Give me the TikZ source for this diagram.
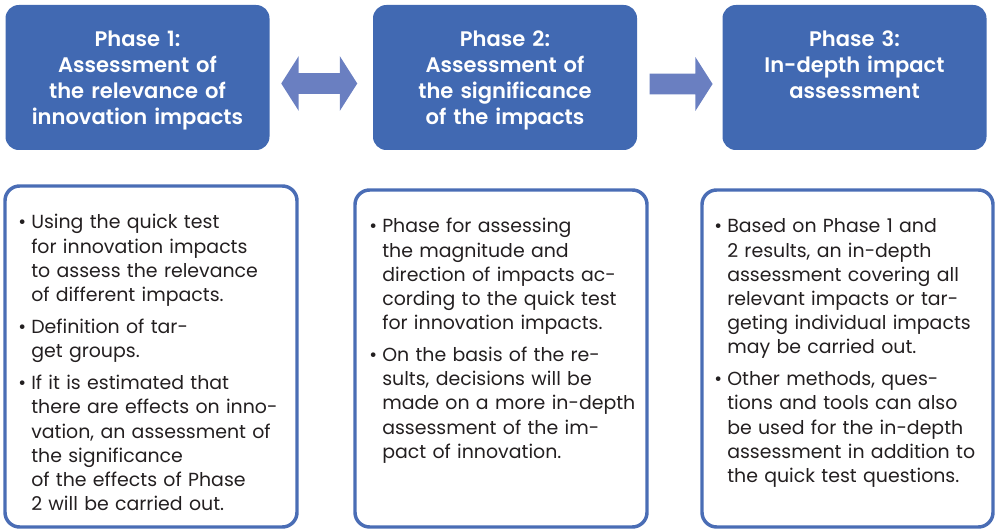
\documentclass[tikz,border=0pt]{standalone}
\usepackage{fontspec}
\setmainfont{Poppins}[BoldFont={Poppins SemiBold}]
\usetikzlibrary{positioning,calc,shapes.arrows}
\definecolor{phaseblue}{HTML}{4169B2}
\definecolor{arrowblue}{HTML}{6A7FC1}
\definecolor{frameblue}{HTML}{4A6DB5}
\definecolor{inktext}{HTML}{231F20}

% bullet with hanging indent, one per item
\newcommand\bitem[1]{{\let\\\newline\noindent\hangindent=9.75pt\hangafter=1%
  \makebox[9.75pt][l]{\textbullet}#1\par}}
\newcommand\gap{\vskip6pt}

\tikzset{
  phasebox/.style={fill=phaseblue,rounded corners=10pt,inner sep=0pt,
    minimum width=198pt,minimum height=108.75pt},
  phasetitle/.style={text=white,font=\bfseries\fontsize{15.8}{19.5}\selectfont,
    align=center,text width=195pt,inner sep=0pt,anchor=base},
  notebox/.style={draw=frameblue,line width=2.6pt,rounded corners=11pt,
    inner sep=0pt,minimum width=219pt,minimum height=252.75pt},
  notetext/.style={text=inktext,font=\fontsize{14.2}{18.1}\selectfont,
    align=left,text width=210pt,inner sep=0pt,anchor=base west},
  flow/.style={fill=arrowblue,inner sep=7.6pt},
}

\begin{document}
\begin{tikzpicture}[x=0.75pt,y=-0.75pt]
  \useasboundingbox (0,0) rectangle (995,530);

  % phase headers
  \node[phasebox] (p1) at (137.5,77.5) {};
  \node[phasebox] (p2) at (505,77.5) {};
  \node[phasebox] (p3) at (854.5,77.5) {};
  \node[phasetitle] (p1t) at (137.5,47)
    {Phase 1:\\Assessment of\\the relevance of\\innovation impacts};
  \node[phasetitle] (p2t) at (505,47)
    {Phase 2:\\Assessment of\\the significance\\of the impacts};
  \node[phasetitle] (p3t) at (854.5,47)
    {Phase 3:\\In-depth impact\\assessment};

  % arrows between the phases
  \node[flow,double arrow,minimum height=57pt,double arrow head extend=12.75pt,
    double arrow tip angle=115] (a12) at ($(p1.east)!0.5!(p2.west)+(-2,6)$) {};
  \node[flow,single arrow,minimum height=47.25pt,single arrow head extend=12.4pt,
    single arrow tip angle=115] (a23) at ($(p2.east)!0.5!(p3.west)+(-2,6.5)$) {};

  % notes under each phase
  \node[notebox,minimum height=255.75pt] (n1) at (151,356.5) {};
  \node[notebox] (n2) at (501,358.5) {};
  \node[notebox,minimum width=218.25pt] (n3) at (847.5,358.5) {};

  \node[notetext] (n1t) at (18,229) {%
    \bitem{Using the quick test\\for innovation impacts\\to assess the relevance\\of different impacts.}\gap
    \bitem{Definition of tar-\\get groups.}\gap
    \bitem{If it is estimated that\\there are effects on inno-\\vation, an assessment of\\the significance\\of the effects of Phase\\2 will be carried out.}};
  \node[notetext] (n2t) at (369,233) {%
    \bitem{Phase for assessing\\the magnitude and\\direction of impacts ac-\\cording to the quick test\\for innovation impacts.}\gap
    \bitem{On the basis of the re-\\sults, decisions will be\\made on a more in-depth\\assessment of the im-\\pact of innovation.}};
  \node[notetext] (n3t) at (714,233) {%
    \bitem{Based on Phase 1 and\\2 results, an in-depth\\assessment covering all\\relevant impacts or tar-\\geting individual impacts\\may be carried out.}\gap
    \bitem{Other methods, ques-\\tions and tools can also\\be used for the in-depth\\assessment in addition to\\the quick test questions.}};
\end{tikzpicture}
\end{document}
